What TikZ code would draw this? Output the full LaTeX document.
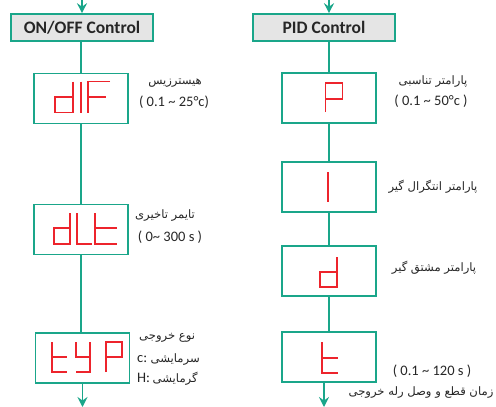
\documentclass[tikz,border=0pt]{standalone}
\usepackage{fontspec}
\setmainfont{Carlito}
\newfontfamily\farsi[Script=Arabic]{DejaVu Sans}
\TeXXeTstate=1
\usetikzlibrary{arrows.meta}

\definecolor{flowteal}{RGB}{26,166,138}
\definecolor{segred}{RGB}{237,36,44}
\definecolor{headgray}{RGB}{229,229,229}
\definecolor{txtgray}{RGB}{38,38,38}

\newcommand{\fa}[1]{{\farsi\beginR #1\endR}}

\tikzset{
  header/.style={draw=flowteal, fill=headgray, line width=1.6pt,
    minimum width=142pt, minimum height=27pt, inner sep=0pt,
    text=txtgray, font=\bfseries\fontsize{17.5}{18}\selectfont},
  display/.style={draw=flowteal, line width=1.6pt,
    minimum width=94pt, minimum height=50pt, inner sep=0pt},
  link/.style={flowteal, line width=1.6pt},
  flow/.style={link, -{Stealth[length=10pt,width=10pt,inset=3.5pt]}},
  seg/.style={segred, line width=1.6pt, line join=miter},
  note/.style={text=txtgray, inner sep=0pt, font=\fontsize{14.5}{16}\selectfont},
  fnote/.style={text=txtgray, inner sep=0pt, font=\fontsize{11.6}{13}\selectfont},
}

\begin{document}
\begin{tikzpicture}[x=1pt,y=-1pt]
  \useasboundingbox (0,0) rectangle (496,407);

  % left column: on/off control
  \node[header] (onoff) at (82,27.5) {ON/OFF Control};
  \node[display] (dif) at (81,98.5) {};
  \node[display] (dlt) at (81,229.5) {};
  \node[display] (typ) at (82.5,358) {};

  % right column: pid control
  \node[header] (pid) at (324,27.5) {PID Control};
  \node[display] (p) at (329,98) {};
  \node[display] (i) at (329,187) {};
  \node[display] (d) at (329,271) {};
  \node[display] (t) at (329,357) {};

  % connectors
  \draw[flow] (onoff.north |- 0,0) -- (onoff.north);
  \draw[link] (dif.north |- onoff.south) -- (dif.north);
  \draw[link] (dif.south) -- (dlt.north);
  \draw[link] (dlt.south) -- (dlt.south |- typ.north);
  \draw[flow] (typ.south) -- (typ.south |- 0,407);

  \draw[flow] (p.north |- 0,0) -- (p.north |- pid.north);
  \draw[link] (p.north |- pid.south) -- (p.north);
  \draw[link] (p.south) -- (i.north);
  \draw[link] (i.south) -- (d.north);
  \draw[link] (d.south) -- (t.north);
  \coordinate (tout) at ([xshift=-5pt]t.south);
  \draw[flow] (tout) -- (tout |- 0,407);

  % seven segment letters
  \begin{scope}[shift={(dif.center)}]
    \draw[seg] (-8,-17) -- (-8,14) -- (-26,14) -- (-26,-1.5) -- (-8,-1.5);
    \draw[seg] (0,-17) -- (0,14);
    \draw[seg] (29,-17) -- (7,-17) -- (7,14) (7,-1.5) -- (25,-1.5);
  \end{scope}
  \begin{scope}[shift={(dlt.center)}]
    \draw[seg] (-11,-16.5) -- (-11,14.5) -- (-27,14.5) -- (-27,-1.5) -- (-11,-1.5);
    \draw[seg] (-4,-16.5) -- (-4,14.5) -- (11,14.5);
    \draw[seg] (14,-16.5) -- (14,14.5) -- (36,14.5) (14,-1.5) -- (36,-1.5);
  \end{scope}
  \begin{scope}[shift={(typ.center)}]
    \draw[seg] (-30.5,-16) -- (-30.5,14) -- (-15.5,14) (-30.5,-1) -- (-15.5,-1);
    \draw[seg] (-6.5,-16) -- (-6.5,-1) -- (7.5,-1) (7.5,-16) -- (7.5,14) -- (-6.5,14);
    \draw[seg] (23.5,14) -- (23.5,-16) -- (39.5,-16) -- (39.5,-1) -- (23.5,-1);
  \end{scope}
  \begin{scope}[shift={(p.center)}]
    \draw[seg] (-3.5,14) -- (-3.5,-15) -- (13.5,-15) -- (13.5,1) -- (-3.5,1);
  \end{scope}
  \begin{scope}[shift={(i.center)}]
    \draw[seg] (-1,-15) -- (-1,15);
  \end{scope}
  \begin{scope}[shift={(d.center)}]
    \draw[seg] (8,-14) -- (8,16) -- (-9,16) -- (-9,1) -- (8,1);
  \end{scope}
  \begin{scope}[shift={(t.center)}]
    \draw[seg] (-7,-15) -- (-7,16) -- (9,16) (-7,1) -- (9,1);
  \end{scope}

  % parameter notes
  \node[fnote] (difname) at (175,83) {\fa{هیسترزیس}};
  \node[note] (difrange) at (174,102) {( 0.1 \~{} 25°c)};
  \node[fnote] (dltname) at (165,216) {\fa{تایمر تاخیری}};
  \node[note] (dltrange) at (170,237) {( 0\~{} 300 s )};
  \node[fnote, anchor=west] (typname) at (139,338) {\fa{نوع خروجی}};
  \node[fnote, anchor=west] (typcool) at (137,360) {{\fontsize{14.5}{16}\selectfont c:} \fa{سرمایشی}};
  \node[fnote, anchor=west] (typheat) at (137,379) {{\fontsize{14.5}{16}\selectfont H:} \fa{گرمایشی}};

  \node[fnote] (pname) at (433,82) {\fa{پارامتر تناسبی}};
  \node[note] (prange) at (431,101) {( 0.1 \~{} 50°c )};
  \node[fnote] (iname) at (433,187) {\fa{پارامتر انتگرال گیر}};
  \node[fnote] (dname) at (434,268) {\fa{پارامتر مشتق گیر}};
  \node[note] (trange) at (432,371) {( 0.1 \~{} 120 s )};
  \node[fnote] (tname) at (421,393) {\fa{زمان قطع و وصل رله خروجی}};
\end{tikzpicture}
\end{document}
